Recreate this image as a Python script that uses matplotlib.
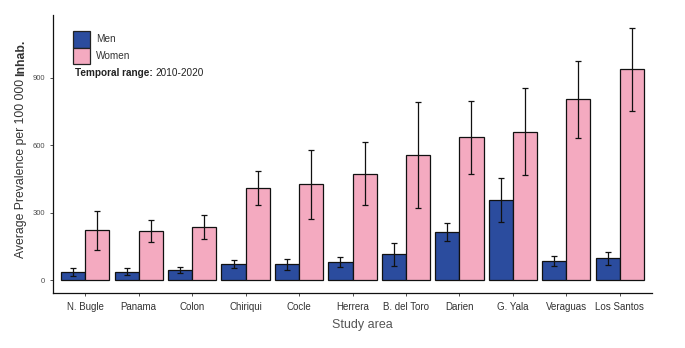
import matplotlib
matplotlib.use("Agg")
import matplotlib.pyplot as plt
import numpy as np
from matplotlib.patches import Rectangle
from matplotlib.offsetbox import TextArea, HPacker, AnchoredOffsetbox

plt.rcParams["font.family"] = ["Liberation Sans", "DejaVu Sans"]

areas = ["N. Bugle", "Panama", "Colon", "Chiriqui", "Cocle", "Herrera",
         "B. del Toro", "Darien", "G. Yala", "Veraguas", "Los Santos"]
men = [37, 39, 47, 72, 73, 84, 117, 215, 357, 86, 99]
men_lo = [20, 23, 33, 54, 47, 59, 66, 175, 259, 62, 69]
men_hi = [53, 57, 59, 90, 97, 106, 166, 255, 455, 109, 127]
women = [222, 219, 237, 412, 429, 475, 558, 637, 662, 805, 938]
women_lo = [135, 172, 182, 337, 271, 335, 322, 473, 470, 634, 752]
women_hi = [310, 268, 291, 488, 582, 617, 793, 797, 854, 974, 1124]
yticks = [0, 300, 600, 900]
series = ["Men", "Women"]

men_c = "#2B4C9E"
women_c = "#F4AAC0"

W, H = 685, 348
fig = plt.figure(figsize=(W / 100, H / 100), dpi=100)
ax = fig.add_axes([53 / W, 1 - 293 / H, (652 - 53) / W, (293 - 15) / H])

x = np.arange(len(areas))
w = 0.45
men = np.array(men); women = np.array(women)
ax.bar(x - w/2, men, width=w, color=men_c, edgecolor="#111111", linewidth=0.9, zorder=2)
ax.bar(x + w/2, women, width=w, color=women_c, edgecolor="#111111", linewidth=0.9, zorder=2)
ax.errorbar(x - w/2, men, yerr=[men - np.array(men_lo), np.array(men_hi) - men],
            fmt="none", ecolor="#111111", elinewidth=0.9, capsize=2.5, capthick=0.9, zorder=3)
ax.errorbar(x + w/2, women, yerr=[women - np.array(women_lo), np.array(women_hi) - women],
            fmt="none", ecolor="#111111", elinewidth=0.9, capsize=2.5, capthick=0.9, zorder=3)

ax.set_xlim(-0.6, len(areas) - 0.4)
ax.set_ylim(-56, 1180)
ax.set_yticks(yticks)
ax.set_yticklabels([str(t) for t in yticks], fontsize=5.5, color="#4D4D4D")
ax.set_xticks(x)
ax.set_xticklabels(areas, fontsize=7, color="#333333")
ax.tick_params(axis="both", length=2.5, width=0.6, color="#333333")
ax.tick_params(axis="x", pad=4)
for s in ["top", "right"]:
    ax.spines[s].set_visible(False)
for s in ["left", "bottom"]:
    ax.spines[s].set_linewidth(0.9)
    ax.spines[s].set_color("#111111")

fig.text(362 / W, 1 - 325 / H, "Study area", fontsize=9, color="#555555",
         ha="center", va="center")

# y label: regular part + bold "Inhab."
renderer = fig.canvas.get_renderer()
yl1 = fig.text(21.5 / W, 1 - 258 / H, "Average Prevalence per 100 000", fontsize=8.8,
               color="#333333", rotation=90, ha="center", va="bottom")
ext = yl1.get_window_extent(renderer)
yl2 = fig.text(21.5 / W, (ext.y1 + 3) / H, "Inhab.", fontsize=8.8, fontweight="bold",
               color="#333333", rotation=90, ha="center", va="bottom")

# legend (drawn manually to match key size)
cols = [men_c, women_c]
for i, (lab, c) in enumerate(zip(series, cols)):
    top = 31 + i * 16.5
    fig.add_artist(Rectangle((73 / W, 1 - (top + 16.5) / H), 17 / W, 16.5 / H,
                             transform=fig.transFigure, facecolor=c,
                             edgecolor="#222222", linewidth=0.9))
    fig.text(96 / W, 1 - (top + 8.5) / H, lab, fontsize=7.2, color="#333333",
             ha="left", va="center")

ta1 = TextArea("Temporal range:", textprops=dict(fontsize=7.2, fontweight="bold", color="#222222"))
ta2 = TextArea("2010-2020", textprops=dict(fontsize=7.2, color="#222222"))
box = HPacker(children=[ta1, ta2], align="baseline", pad=0, sep=2.2)
anch = AnchoredOffsetbox(loc="center left", child=box, pad=0, borderpad=0, frameon=False,
                         bbox_to_anchor=(75 / W, 1 - 73 / H), bbox_transform=fig.transFigure)
fig.add_artist(anch)

fig.savefig("out.png", dpi=100)
